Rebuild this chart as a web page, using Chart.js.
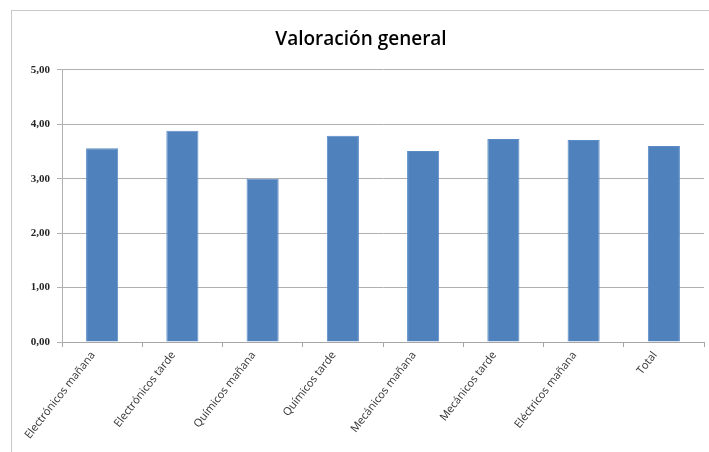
<!DOCTYPE html>
<html>
<head>
<meta charset="utf-8">
<script src="https://cdn.jsdelivr.net/npm/chart.js@4"></script>
<style>
    body { margin: 0; background: #fff; }
    #wrap {
        position: absolute;
        left: 11px;
        top: 10px;
        width: 698px;
        height: 442px;
        border-left: 1px solid #c8c8c8;
        border-top: 1px solid #c8c8c8;
    }
</style>
</head>
<body>
<div id="wrap"><canvas id="valoracionChart" width="697" height="441"></canvas></div>
<script>
const categories = ['Electrónicos mañana', 'Electrónicos tarde', 'Químicos mañana', 'Químicos tarde',
    'Mecánicos mañana', 'Mecánicos tarde', 'Eléctricos mañana', 'Total'];
const valores = [3.56, 3.88, 3.00, 3.79, 3.51, 3.73, 3.71, 3.60];
const yTickLabels = ['0,00', '1,00', '2,00', '3,00', '4,00', '5,00'];

const ctx = document.getElementById('valoracionChart').getContext('2d');
const valoracionChart = new Chart(ctx, {
    type: 'bar',
    data: {
        labels: categories,
        datasets: [{
            label: 'Valoración general',
            data: valores,
            backgroundColor: '#4f81bd',
            borderColor: '#5b8cc6',
            borderWidth: 1,
            barPercentage: 0.4,
            categoryPercentage: 1.0
        }]
    },
    options: {
        responsive: false,
        animation: false,
        layout: {
            padding: { left: 6, right: 5, top: 0, bottom: 0 }
        },
        scales: {
            x: {
                grid: {
                    display: true,
                    drawOnChartArea: false,
                    drawTicks: true,
                    tickLength: 5,
                    offset: true,
                    color: '#a6a6a6'
                },
                border: { color: '#a6a6a6' },
                ticks: {
                    minRotation: 52,
                    maxRotation: 52,
                    labelOffset: -9,
                    color: '#333333',
                    font: { family: 'Open Sans', size: 11 },
                    padding: 2
                },
                afterFit: function (scale) {
                    scale.height = 110;
                }
            },
            y: {
                min: 0,
                max: 5,
                ticks: {
                    stepSize: 1,
                    color: '#262626',
                    font: { family: 'Liberation Serif', size: 11, weight: 'bold' },
                    padding: 7,
                    callback: function (value, index) {
                        return yTickLabels[index];
                    }
                },
                grid: {
                    color: '#b0b0b0',
                    tickLength: 5
                },
                border: { color: '#b0b0b0' },
                afterFit: function (scale) {
                    scale.width = 44;
                }
            }
        },
        plugins: {
            legend: { display: false },
            tooltip: { enabled: false },
            title: {
                display: true,
                text: 'Valoración general',
                color: '#000',
                font: { family: 'Open Sans', size: 19, weight: '600' },
                padding: { top: 17, bottom: 19 }
            }
        }
    }
});
</script>
</body>
</html>
